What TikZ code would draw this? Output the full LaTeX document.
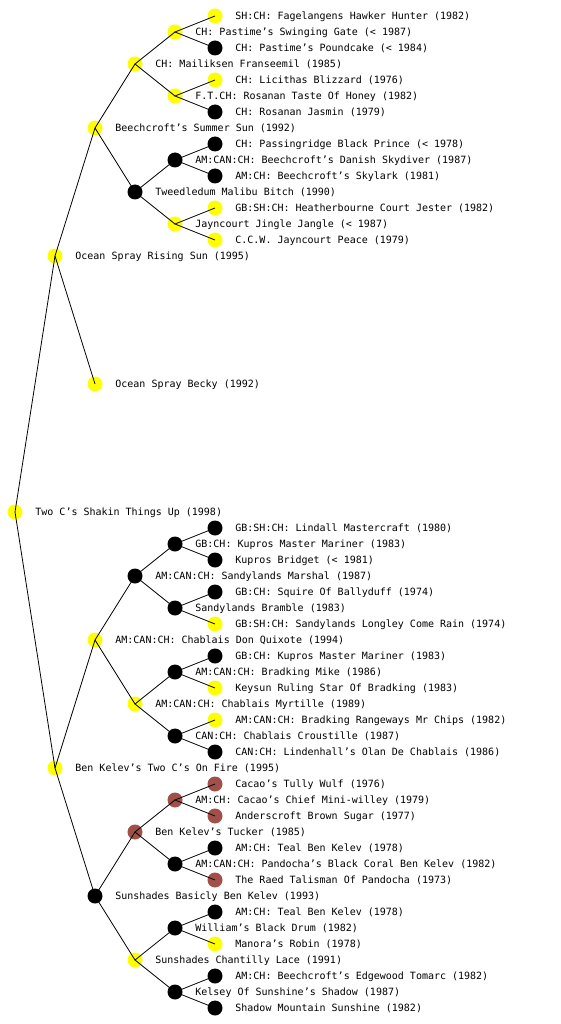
\documentclass[tikz,border=0pt]{standalone}
\usepackage{fontspec}
\newfontfamily\dogfont{DejaVu Sans Mono}
\definecolor{dogyellow}{RGB}{255,255,0}
\definecolor{dogbrown}{RGB}{160,80,72}
\begin{document}
\begin{tikzpicture}[x=1pt, y=-1pt,
    dog/.style={circle, minimum size=15pt, inner sep=0pt},
    yel/.style={dog, fill=dogyellow},
    blk/.style={dog, fill=black},
    brn/.style={dog, fill=dogbrown},
    every label/.style={font=\dogfont\fontsize{10}{12}\selectfont, inner sep=0pt, yshift=-0.8pt},
    label distance=12.5pt,
    edge/.style={line width=0.8pt}]
    \useasboundingbox (0, 0) rectangle (560, 1024);

    % generation 0 and 1
    \node[yel, label={right:{Two C’s Shakin Things Up (1998)}}] (shakin) at (15, 512) {};
    \node[yel, label={right:{Ocean Spray Rising Sun (1995)}}] (risingsun) at (55, 256) {};
    \node[yel, label={right:{Ben Kelev’s Two C’s On Fire (1995)}}] (onfire) at (55, 768) {};

    % generation 2
    \node[yel, label={right:{Beechcroft’s Summer Sun (1992)}}] (summersun) at (95, 128) {};
    \node[yel, label={right:{Ocean Spray Becky (1992)}}] (becky) at (95, 384) {};
    \node[yel, label={right:{AM:CAN:CH: Chablais Don Quixote (1994)}}] (quixote) at (95, 640) {};
    \node[blk, label={right:{Sunshades Basicly Ben Kelev (1993)}}] (basicly) at (95, 896) {};

    % generation 3
    \node[yel, label={right:{CH: Mailiksen Franseemil (1985)}}] (franseemil) at (135, 64) {};
    \node[blk, label={right:{Tweedledum Malibu Bitch (1990)}}] (tweedledum) at (135, 192) {};
    \node[blk, label={right:{AM:CAN:CH: Sandylands Marshal (1987)}}] (marshal) at (135, 576) {};
    \node[yel, label={right:{AM:CAN:CH: Chablais Myrtille (1989)}}] (myrtille) at (135, 704) {};
    \node[brn, label={right:{Ben Kelev’s Tucker (1985)}}] (tucker) at (135, 832) {};
    \node[yel, label={right:{Sunshades Chantilly Lace (1991)}}] (lace) at (135, 960) {};

    % generation 4
    \node[yel, label={right:{CH: Pastime’s Swinging Gate (< 1987)}}] (gate) at (175, 32) {};
    \node[yel, label={right:{F.T.CH: Rosanan Taste Of Honey (1982)}}] (honey) at (175, 96) {};
    \node[blk, label={right:{AM:CAN:CH: Beechcroft’s Danish Skydiver (1987)}}] (skydiver) at (175, 160) {};
    \node[yel, label={right:{Jayncourt Jingle Jangle (< 1987)}}] (jingle) at (175, 224) {};
    \node[blk, label={right:{GB:CH: Kupros Master Mariner (1983)}}] (mariner) at (175, 544) {};
    \node[blk, label={right:{Sandylands Bramble (1983)}}] (bramble) at (175, 608) {};
    \node[blk, label={right:{AM:CAN:CH: Bradking Mike (1986)}}] (mike) at (175, 672) {};
    \node[blk, label={right:{CAN:CH: Chablais Croustille (1987)}}] (croustille) at (175, 736) {};
    \node[brn, label={right:{AM:CH: Cacao’s Chief Mini-willey (1979)}}] (willey) at (175, 800) {};
    \node[blk, label={right:{AM:CAN:CH: Pandocha’s Black Coral Ben Kelev (1982)}}] (coral) at (175, 864) {};
    \node[blk, label={right:{William’s Black Drum (1982)}}] (drum) at (175, 928) {};
    \node[blk, label={right:{Kelsey Of Sunshine’s Shadow (1987)}}] (kelsey) at (175, 992) {};

    % generation 5
    \node[yel, label={right:{SH:CH: Fagelangens Hawker Hunter (1982)}}] (hunter) at (215, 16) {};
    \node[blk, label={right:{CH: Pastime’s Poundcake (< 1984)}}] (poundcake) at (215, 48) {};
    \node[yel, label={right:{CH: Licithas Blizzard (1976)}}] (blizzard) at (215, 80) {};
    \node[blk, label={right:{CH: Rosanan Jasmin (1979)}}] (jasmin) at (215, 112) {};
    \node[blk, label={right:{CH: Passingridge Black Prince (< 1978)}}] (prince) at (215, 144) {};
    \node[blk, label={right:{AM:CH: Beechcroft’s Skylark (1981)}}] (skylark) at (215, 176) {};
    \node[yel, label={right:{GB:SH:CH: Heatherbourne Court Jester (1982)}}] (jester) at (215, 208) {};
    \node[yel, label={right:{C.C.W. Jayncourt Peace (1979)}}] (peace) at (215, 240) {};
    \node[blk, label={right:{GB:SH:CH: Lindall Mastercraft (1980)}}] (mastercraft) at (215, 528) {};
    \node[blk, label={right:{Kupros Bridget (< 1981)}}] (bridget) at (215, 560) {};
    \node[blk, label={right:{GB:CH: Squire Of Ballyduff (1974)}}] (squire) at (215, 592) {};
    \node[yel, label={right:{GB:SH:CH: Sandylands Longley Come Rain (1974)}}] (longley) at (215, 624) {};
    \node[blk, label={right:{GB:CH: Kupros Master Mariner (1983)}}] (mariner2) at (215, 656) {};
    \node[yel, label={right:{Keysun Ruling Star Of Bradking (1983)}}] (keysun) at (215, 688) {};
    \node[yel, label={right:{AM:CAN:CH: Bradking Rangeways Mr Chips (1982)}}] (chips) at (215, 720) {};
    \node[blk, label={right:{CAN:CH: Lindenhall’s Olan De Chablais (1986)}}] (olan) at (215, 752) {};
    \node[brn, label={right:{Cacao’s Tully Wulf (1976)}}] (tully) at (215, 784) {};
    \node[brn, label={right:{Anderscroft Brown Sugar (1977)}}] (sugar) at (215, 816) {};
    \node[blk, label={right:{AM:CH: Teal Ben Kelev (1978)}}] (teal) at (215, 848) {};
    \node[brn, label={right:{The Raed Talisman Of Pandocha (1973)}}] (talisman) at (215, 880) {};
    \node[blk, label={right:{AM:CH: Teal Ben Kelev (1978)}}] (teal2) at (215, 912) {};
    \node[yel, label={right:{Manora’s Robin (1978)}}] (robin) at (215, 944) {};
    \node[blk, label={right:{AM:CH: Beechcroft’s Edgewood Tomarc (1982)}}] (tomarc) at (215, 976) {};
    \node[blk, label={right:{Shadow Mountain Sunshine (1982)}}] (shadow) at (215, 1008) {};

    % parent lines
    \draw[edge] (risingsun.center) -- (shakin.center) -- (onfire.center);
    \draw[edge] (summersun.center) -- (risingsun.center) -- (becky.center);
    \draw[edge] (quixote.center) -- (onfire.center) -- (basicly.center);
    \draw[edge] (franseemil.center) -- (summersun.center) -- (tweedledum.center);
    \draw[edge] (marshal.center) -- (quixote.center) -- (myrtille.center);
    \draw[edge] (tucker.center) -- (basicly.center) -- (lace.center);
    \draw[edge] (gate.center) -- (franseemil.center) -- (honey.center);
    \draw[edge] (skydiver.center) -- (tweedledum.center) -- (jingle.center);
    \draw[edge] (mariner.center) -- (marshal.center) -- (bramble.center);
    \draw[edge] (mike.center) -- (myrtille.center) -- (croustille.center);
    \draw[edge] (willey.center) -- (tucker.center) -- (coral.center);
    \draw[edge] (drum.center) -- (lace.center) -- (kelsey.center);
    \draw[edge] (hunter.center) -- (gate.center) -- (poundcake.center);
    \draw[edge] (blizzard.center) -- (honey.center) -- (jasmin.center);
    \draw[edge] (prince.center) -- (skydiver.center) -- (skylark.center);
    \draw[edge] (jester.center) -- (jingle.center) -- (peace.center);
    \draw[edge] (mastercraft.center) -- (mariner.center) -- (bridget.center);
    \draw[edge] (squire.center) -- (bramble.center) -- (longley.center);
    \draw[edge] (mariner2.center) -- (mike.center) -- (keysun.center);
    \draw[edge] (chips.center) -- (croustille.center) -- (olan.center);
    \draw[edge] (tully.center) -- (willey.center) -- (sugar.center);
    \draw[edge] (teal.center) -- (coral.center) -- (talisman.center);
    \draw[edge] (teal2.center) -- (drum.center) -- (robin.center);
    \draw[edge] (tomarc.center) -- (kelsey.center) -- (shadow.center);
  \end{tikzpicture}
\end{document}
